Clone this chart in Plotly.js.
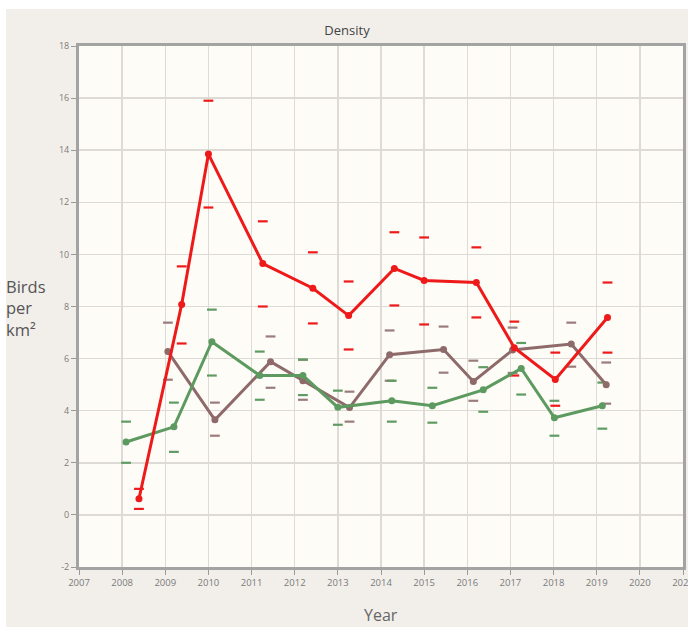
<!DOCTYPE html>
<html>
<head>
<meta charset="utf-8">
<script src="https://cdn.plot.ly/plotly-3.0.1.min.js"></script>
<style>
html,body{margin:0;padding:0;background:#ffffff;}
#chart{position:absolute;left:6px;top:9px;width:682px;height:618px;}
</style>
</head>
<body>
<div id="chart"></div>
<script>
// ---- Data ----
const redX   = [2008.39, 2009.38, 2010.0, 2011.26, 2012.42, 2013.25, 2014.31, 2015.0, 2016.21, 2017.09, 2018.04, 2019.25];
const redY   = [0.62, 8.08, 13.85, 9.65, 8.7, 7.65, 9.46, 9.0, 8.92, 6.42, 5.2, 7.58];
const redHi  = [1.0, 9.54, 15.9, 11.27, 10.08, 8.96, 10.85, 10.65, 10.27, 7.42, 6.23, 8.92];
const redLo  = [0.23, 6.58, 11.8, 8.0, 7.35, 6.35, 8.04, 7.31, 7.58, 5.35, 4.19, 6.23];

const brownX  = [2009.06, 2010.15, 2011.44, 2012.19, 2013.27, 2014.2, 2015.45, 2016.14, 2017.05, 2018.41, 2019.22];
const brownY  = [6.27, 3.65, 5.88, 5.15, 4.12, 6.15, 6.35, 5.12, 6.33, 6.56, 5.0];
const brownHi = [7.38, 4.31, 6.85, 5.96, 4.73, 7.08, 7.23, 5.92, 7.19, 7.38, 5.85];
const brownLo = [5.19, 3.04, 4.88, 4.42, 3.58, 5.15, 5.46, 4.38, 5.45, 5.69, 4.27];

const greenX  = [2008.09, 2009.2, 2010.08, 2011.19, 2012.19, 2013.0, 2014.25, 2015.19, 2016.37, 2017.25, 2018.02, 2019.13];
const greenY  = [2.8, 3.38, 6.65, 5.35, 5.35, 4.13, 4.38, 4.19, 4.8, 5.62, 3.73, 4.19];
const greenHi = [3.58, 4.31, 7.88, 6.27, 5.96, 4.77, 5.15, 4.88, 5.67, 6.6, 4.38, 5.08];
const greenLo = [2.0, 2.42, 5.35, 4.42, 4.6, 3.46, 3.58, 3.54, 3.96, 4.62, 3.04, 3.31];

const xTicks = [2007, 2008, 2009, 2010, 2011, 2012, 2013, 2014, 2015, 2016, 2017, 2018, 2019, 2020, 2021];
const yTicks = [-2, 0, 2, 4, 6, 8, 10, 12, 14, 16, 18];

const titleText = 'Density';
const xTitle = 'Year';
const yTitle = 'Birds<br>per<br>km²';

// ---- Styles ----
const RED = '#ee1a1a', BROWN = '#8e6a6a', GREEN = '#5c9a5f';
const BROWN_D = '#9b7c7c', GREEN_D = '#5f9b62';

function lineTrace(x, y, color) {
  return {x: x, y: y, type: 'scatter', mode: 'lines+markers',
    line: {color: color, width: 3}, marker: {color: color, size: 7},
    hoverinfo: 'x+y', showlegend: false};
}
function dashTrace(x, y, color) {
  return {x: x, y: y, type: 'scatter', mode: 'markers',
    marker: {symbol: 'line-ew', size: 7, color: color, line: {color: color, width: 2.2}},
    hoverinfo: 'x+y', showlegend: false};
}

const traces = [
  dashTrace(brownX, brownHi, BROWN_D), dashTrace(brownX, brownLo, BROWN_D),
  dashTrace(greenX, greenHi, GREEN_D), dashTrace(greenX, greenLo, GREEN_D),
  dashTrace(redX, redHi, RED), dashTrace(redX, redLo, RED),
  lineTrace(brownX, brownY, BROWN),
  lineTrace(greenX, greenY, GREEN),
  lineTrace(redX, redY, RED)
];

const FONT = 'Open Sans, Lato, sans-serif';
const axisCommon = {
  showline: true, linecolor: '#a3a3a3', linewidth: 3, mirror: true,
  showgrid: true, gridcolor: '#dedbd6', gridwidth: 1.5,
  zeroline: false, ticks: 'outside', ticklen: 5, tickcolor: '#9a9a9a', tickwidth: 1,
  tickfont: {family: FONT, size: 9, color: '#7a7a7a'}, fixedrange: true,
  ticklabeloverflow: 'allow'
};

const layout = {
  width: 682, height: 618,
  paper_bgcolor: '#f2efeb', plot_bgcolor: '#fdfcf7',
  margin: {l: 73, r: 5, t: 37, b: 60},
  title: {text: titleText, font: {family: FONT, size: 13, color: '#444444'},
          xref: 'container', x: 0.5, xanchor: 'center', yref: 'container', y: 0.966, yanchor: 'middle'},
  xaxis: Object.assign({}, axisCommon, {range: [2007, 2021], tickvals: xTicks,
          ticktext: xTicks.map(String), tickfont: {family: FONT, size: 9.5, color: '#7a7a7a'}}),
  yaxis: Object.assign({}, axisCommon, {range: [-2, 18], tickvals: yTicks, ticktext: yTicks.map(String)}),
  annotations: [
    {text: xTitle, xref: 'paper', yref: 'paper', x: 0.5, y: -0.092, xanchor: 'center', yanchor: 'middle',
     showarrow: false, font: {family: FONT, size: 16, color: '#666666'}},
    {text: yTitle, xref: 'paper', yref: 'paper', x: -0.124, y: 0.497, xanchor: 'left', yanchor: 'middle',
     align: 'left', showarrow: false, font: {family: FONT, size: 16.5, color: '#555555'}}
  ],
  showlegend: false
};

Plotly.newPlot('chart', traces, layout, {displayModeBar: false, staticPlot: true});
</script>
</body>
</html>
